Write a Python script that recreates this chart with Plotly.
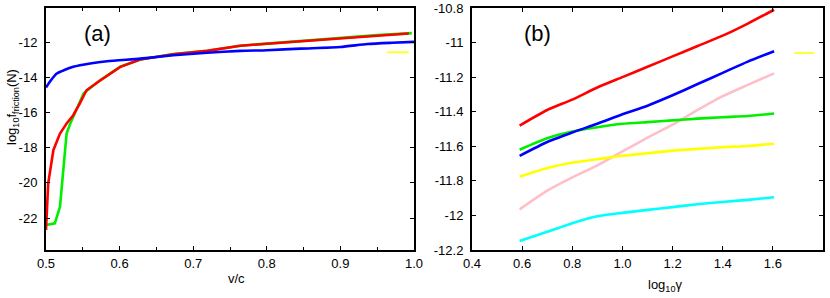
import plotly.graph_objects as go

# ---------------- Panel (a) data ----------------
v_blue = [0.5, 0.507, 0.5146, 0.525, 0.537, 0.56, 0.583, 0.628, 0.673, 0.719, 0.764,
          0.8, 0.846, 0.9, 0.937, 0.97, 1.0]
f_blue = [-14.57, -14.15, -13.78, -13.58, -13.40, -13.21, -13.08, -12.93, -12.74, -12.6,
          -12.49, -12.45, -12.36, -12.27, -12.1, -12.03, -11.98]

v_red = [0.5, 0.503, 0.51, 0.519, 0.528, 0.537, 0.546, 0.555, 0.574, 0.601, 0.628, 0.673,
         0.719, 0.764, 0.8, 0.85, 0.9, 0.95, 0.993]
f_red = [-22.68, -20.03, -18.14, -17.19, -16.62, -16.15, -15.48, -14.73, -14.16, -13.4,
         -12.98, -12.68, -12.49, -12.2, -12.08, -11.93, -11.77, -11.6, -11.5]

v_green = [0.5, 0.512, 0.519, 0.524, 0.528, 0.533, 0.542, 0.551, 0.56, 0.574, 0.601, 0.628,
           0.673, 0.719, 0.764, 0.8, 0.85, 0.9, 0.95, 0.997]
f_green = [-22.4, -22.3, -21.36, -19.27, -17.19, -16.62, -15.77, -14.92, -14.6, -14.15,
           -13.39, -12.975, -12.675, -12.485, -12.195, -12.075, -11.925, -11.765, -11.595, -11.48]

v_yellow_a = [0.963, 0.993]
f_yellow_a = [-12.57, -12.57]

# ---------------- Panel (b) data ----------------
gamma = [0.59, 0.7, 0.8, 0.9, 1.0, 1.1, 1.2, 1.3, 1.4, 1.5, 1.605]
b_red = [-11.48, -11.39, -11.33, -11.26, -11.2, -11.14, -11.08, -11.02, -10.96, -10.89, -10.81]
b_blue = [-11.655, -11.575, -11.52, -11.47, -11.415, -11.365, -11.305, -11.24, -11.175, -11.11, -11.05]
b_green = [-11.62, -11.554, -11.515, -11.49, -11.47, -11.46, -11.45, -11.44, -11.432, -11.425, -11.41]
b_pink = [-11.965, -11.857, -11.78, -11.71, -11.63, -11.55, -11.475, -11.39, -11.31, -11.245, -11.178]
b_yellow = [-11.775, -11.725, -11.695, -11.675, -11.655, -11.64, -11.625, -11.615, -11.605, -11.598, -11.585]
b_cyan = [-12.148, -12.095, -12.045, -12.005, -11.985, -11.968, -11.952, -11.935, -11.922, -11.91, -11.895]

g_yellow_mark = [1.685, 1.765]
y_yellow_mark = [-11.06, -11.06]

# ---------------- Tick labels ----------------
xa_ticks = [0.5, 0.6, 0.7, 0.8, 0.9, 1.0]
xa_text = ["0.5", "0.6", "0.7", "0.8", "0.9", "1.0"]
ya_ticks = [-22, -20, -18, -16, -14, -12]
ya_text = ["-22", "-20", "-18", "-16", "-14", "-12"]
xb_ticks = [0.4, 0.6, 0.8, 1.0, 1.2, 1.4, 1.6, 1.8]
xb_text = ["0.4", "0.6", "0.8", "1.0", "1.2", "1.4", "1.6", "1.8"]
yb_ticks = [-12.2, -12.0, -11.8, -11.6, -11.4, -11.2, -11.0, -10.8]
yb_text = ["-12.2", "-12", "-11.8", "-11.6", "-11.4", "-11.2", "-11", "-10.8"]

LW = 2.6
FONT = "Liberation Sans, Arial, Helvetica, sans-serif"

fig = go.Figure()

def add(x, y, color, xa, ya, w=LW, smooth=True):
    line = dict(color=color, width=w)
    if smooth:
        line.update(shape="spline", smoothing=0.6)
    fig.add_trace(go.Scatter(x=x, y=y, mode="lines", line=line,
                             xaxis=xa, yaxis=ya, showlegend=False, hoverinfo="skip"))

# panel (a)
add(v_green, f_green, "#00ee00", "x", "y", smooth=False)
add(v_red, f_red, "#ff0000", "x", "y", smooth=False)
add(v_blue, f_blue, "#0000ff", "x", "y")
add(v_yellow_a, f_yellow_a, "#ffff33", "x", "y", 2, False)

# panel (b)
add(gamma, b_pink, "#ffbfc8", "x2", "y2")
add(gamma, b_yellow, "#ffff00", "x2", "y2")
add(gamma, b_cyan, "#00ffff", "x2", "y2")
add(gamma, b_green, "#00ee00", "x2", "y2")
add(gamma, b_blue, "#0000ff", "x2", "y2")
add(gamma, b_red, "#ff0000", "x2", "y2")
add(g_yellow_mark, y_yellow_mark, "#ffff33", "x2", "y2", 2, False)

axis_common = dict(showline=True, linecolor="black", linewidth=2, mirror="ticks",
                   ticks="inside", ticklen=4, tickwidth=1.2, tickcolor="black",
                   showgrid=False, zeroline=False,
                   tickfont=dict(family=FONT, size=13, color="black"))

L, R = 46, 823
W = R - L
dom_a = [0, (414 - L) / W]
dom_b = [(472 - L) / W, 1]

fig.update_layout(
    width=830, height=298, autosize=False,
    margin=dict(l=L, r=830 - R, t=8, b=48, pad=0),
    paper_bgcolor="white", plot_bgcolor="white",
    font=dict(family=FONT, size=13, color="black"),
    xaxis=dict(domain=dom_a, range=[0.5, 1.0], tickvals=xa_ticks, ticktext=xa_text,
               minor=dict(dtick=0.05, tick0=0.5, ticks="inside", ticklen=3, tickcolor="black"),
               anchor="y", automargin=False, **axis_common),
    yaxis=dict(domain=[0, 1], range=[-23.82, -10.05], tickvals=ya_ticks, ticktext=ya_text,
               anchor="x", ticklabelstandoff=4, automargin=False, **axis_common),
    xaxis2=dict(domain=dom_b, range=[0.4, 1.8], tickvals=xb_ticks, ticktext=xb_text,
                anchor="y2", automargin=False, **axis_common),
    yaxis2=dict(domain=[0, 1], range=[-12.2, -10.8], tickvals=yb_ticks, ticktext=yb_text,
                anchor="x2", ticklabelstandoff=4, automargin=False, **axis_common),
)

annots = [
    dict(text="(a)", x=97, y=34, size=22),
    dict(text="(b)", x=537, y=33, size=22),
    dict(text="v/c", x=236, y=278, size=13),
    dict(text="log<sub>10</sub>γ", x=665, y=285, size=13),
]
for a in annots:
    fig.add_annotation(text=a["text"], xref="paper", yref="paper",
                       x=(a["x"] - L) / W, y=1 - (a["y"] - 8) / (250 - 8),
                       xanchor="center", yanchor="middle", showarrow=False,
                       font=dict(family=FONT, size=a["size"], color="black"))

fig.add_annotation(text="log<sub>10</sub>f<sub>friction</sub>(N)", xref="paper", yref="paper",
                   x=(12 - L) / W, y=1 - (107 - 8) / (250 - 8), textangle=-90,
                   xanchor="center", yanchor="middle", showarrow=False,
                   font=dict(family=FONT, size=13, color="black"))

fig.write_html("out.html",
               config={"responsive": False, "displayModeBar": False},
               post_script="document.body.style.margin='0';document.body.style.overflow='hidden';")
